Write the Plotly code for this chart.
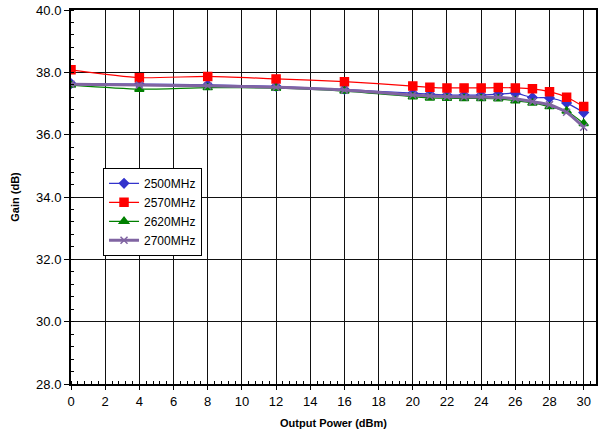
import plotly.graph_objects as go

power = [0, 4, 8, 12, 16, 20, 21, 22, 23, 24, 25, 26, 27, 28, 29, 30]
gain_2500 = [37.64, 37.62, 37.60, 37.55, 37.45, 37.33, 37.30, 37.27, 37.27, 37.27, 37.30, 37.33, 37.19, 37.18, 37.02, 36.71]
gain_2570 = [38.08, 37.83, 37.87, 37.79, 37.70, 37.56, 37.52, 37.50, 37.50, 37.50, 37.51, 37.50, 37.47, 37.38, 37.20, 36.90]
gain_2620 = [37.59, 37.46, 37.51, 37.49, 37.40, 37.22, 37.18, 37.17, 37.16, 37.16, 37.15, 37.09, 37.02, 36.90, 36.76, 36.36]
gain_2700 = [37.62, 37.59, 37.57, 37.52, 37.43, 37.27, 37.24, 37.22, 37.21, 37.21, 37.20, 37.15, 37.06, 36.96, 36.72, 36.24]

series = [
    ("2500MHz", gain_2500, "#3333CC", "diamond", 7, 1.2),
    ("2570MHz", gain_2570, "#FF0000", "square", 8, 1.2),
    ("2620MHz", gain_2620, "#008000", "triangle-up", 8, 1.2),
    ("2700MHz", gain_2700, "#8064A2", "x-thin-open", 7, 3),
]

fig = go.Figure()
for name, ys, color, sym, size, lw in series:
    fig.add_trace(go.Scatter(
        x=power, y=ys, name=name, mode="lines+markers",
        line=dict(color=color, width=lw, shape="spline", smoothing=0.6),
        marker=dict(symbol=sym, size=size, color=color,
                    line=dict(color=color, width=1.5)),
    ))

font = "Liberation Sans, Arial, sans-serif"
fig.update_layout(
    width=598, height=435,
    margin=dict(l=71, r=0, t=10, b=51),
    paper_bgcolor="white", plot_bgcolor="white",
    font=dict(family=font, size=13, color="black"),
    showlegend=True,
    legend=dict(x=0.061, y=0.578, xanchor="left", yanchor="top",
                bgcolor="white", bordercolor="black", borderwidth=1,
                font=dict(size=12), tracegroupgap=0, itemwidth=30),
    xaxis=dict(
        range=[0, 30.72], tickmode="linear", tick0=0, dtick=2,
        showgrid=True, gridcolor="#111111", gridwidth=1.3,
        ticks="outside", ticklen=4, tickcolor="black",
        showline=True, linecolor="black", linewidth=2, mirror=True,
        zeroline=False,
        minor=dict(dtick=0.4, ticks="inside", ticklen=3, tickcolor="black", showgrid=False),
        title=dict(text="<b>Output Power (dBm)</b>", font=dict(size=11), standoff=12),
    ),
    yaxis=dict(
        range=[28, 40], tickmode="linear", tick0=28, dtick=2, tickformat=".1f",
        showgrid=True, gridcolor="#111111", gridwidth=1.3,
        ticks="outside", ticklen=5, tickcolor="black",
        showline=True, linecolor="black", linewidth=2, mirror=True,
        zeroline=False,
        minor=dict(dtick=0.4, ticks="inside", ticklen=3, tickcolor="black", showgrid=False),
        title=dict(text="<b>Gain (dB)</b>", font=dict(size=11), standoff=14),
    ),
)

fig.write_html("out.html", config={"displayModeBar": False},
               post_script="document.body.style.margin='0';")
